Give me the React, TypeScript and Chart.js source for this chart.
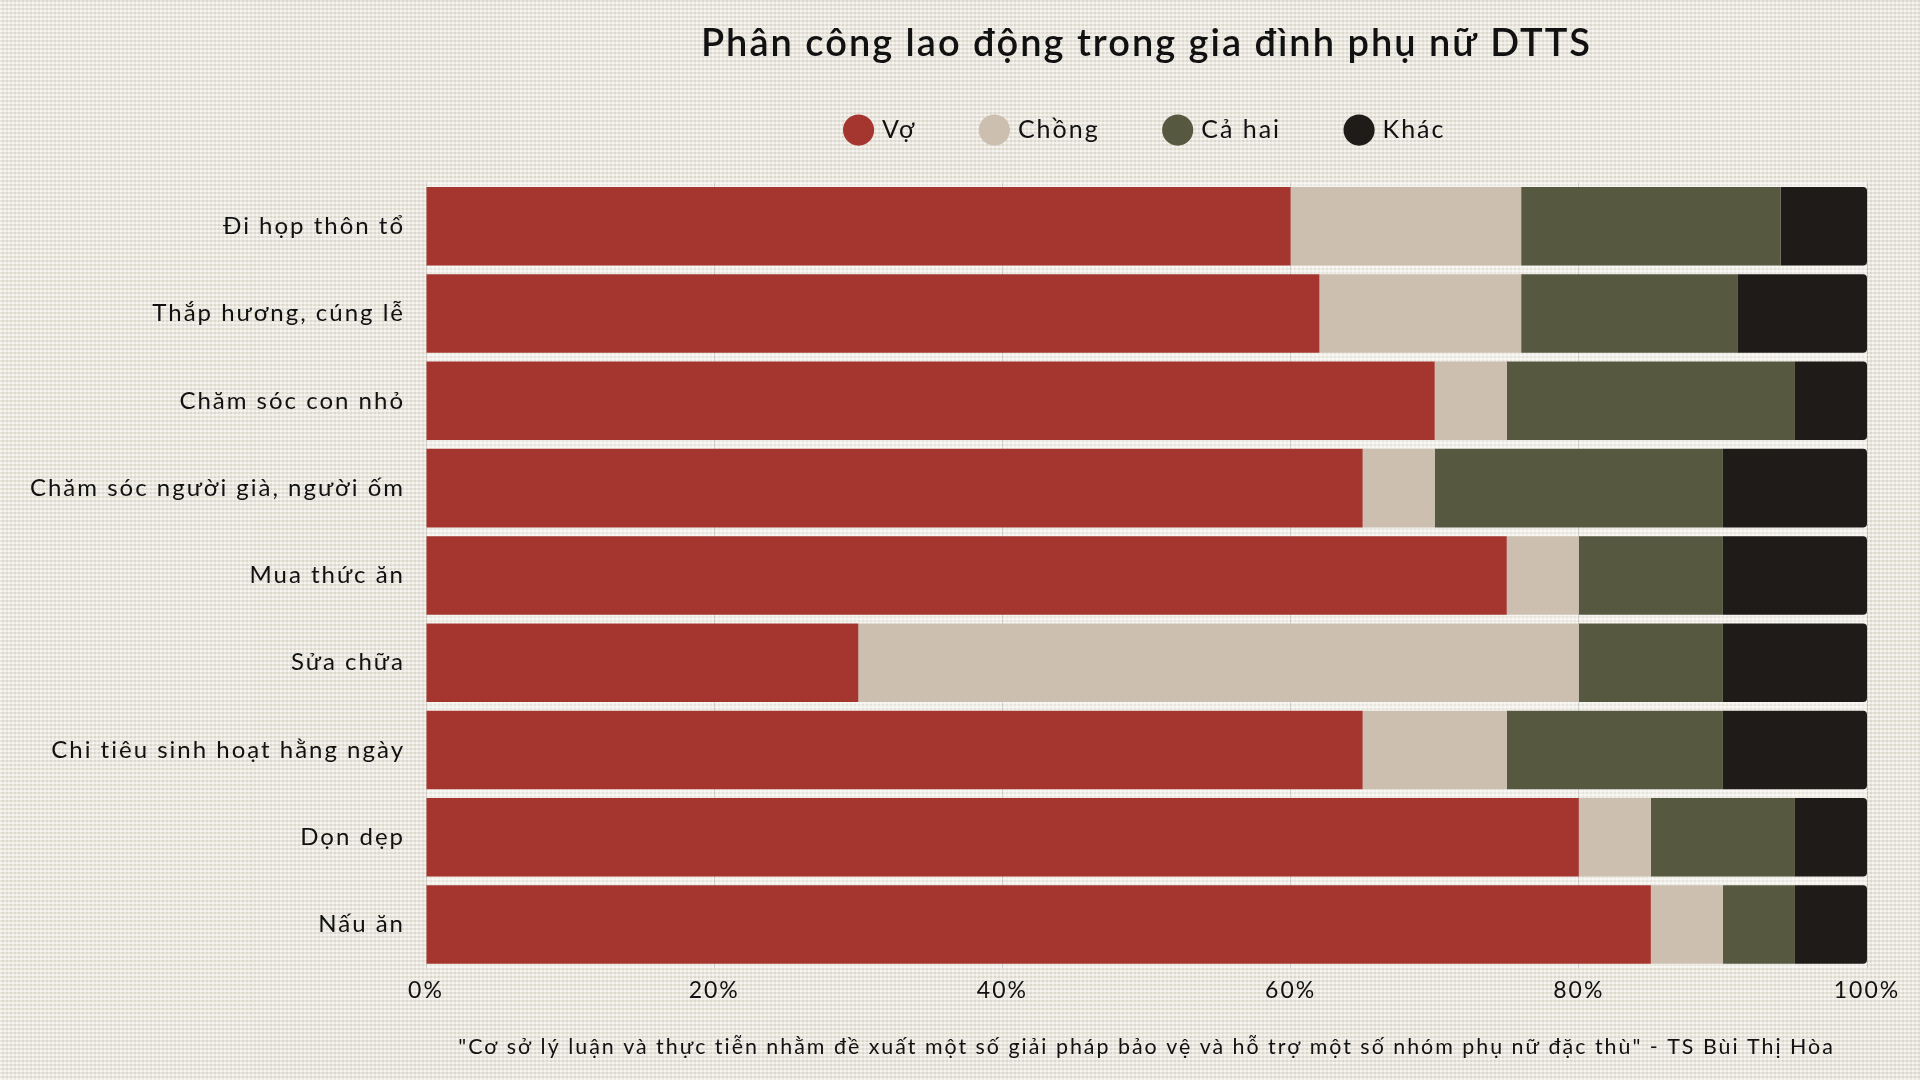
import React, { useEffect, useRef } from 'react';
import { Chart, registerables } from 'chart.js';

Chart.register(...registerables);

const categories = [
  'Đi họp thôn tổ',
  'Thắp hương, cúng lễ',
  'Chăm sóc con nhỏ',
  'Chăm sóc người già, người ốm',
  'Mua thức ăn',
  'Sửa chữa',
  'Chi tiêu sinh hoạt hằng ngày',
  'Dọn dẹp',
  'Nấu ăn',
];
const seriesNames = ['Vợ', 'Chồng', 'Cả hai', 'Khác'];
const vo = [60, 62, 70, 65, 75, 30, 65, 80, 85];
const chong = [16, 14, 5, 5, 5, 50, 10, 5, 5];
const caHai = [18, 15, 20, 20, 10, 10, 15, 10, 5];
const khac = [6, 9, 5, 10, 10, 10, 10, 5, 5];
const seriesColors = ['#A5362F', '#CCBFB0', '#565940', '#1F1B18'];
const xTicks = [0, 20, 40, 60, 80, 100];
const titleText = 'Phân công lao động trong gia đình phụ nữ DTTS';
const sourceText =
  '"Cơ sở lý luận và thực tiễn nhằm đề xuất một số giải pháp bảo vệ và hỗ trợ một số nhóm phụ nữ đặc thù" - TS Bùi Thị Hòa';

const FONT = 'Lato, "Noto Sans", sans-serif';

const letterSpacing = {
  id: 'letterSpacing',
  beforeLayout(chart: any) {
    chart.ctx.letterSpacing = '2px';
  },
  beforeDraw(chart: any) {
    chart.ctx.letterSpacing = '2px';
  },
};

const areaBg = {
  id: 'areaBg',
  beforeDraw(chart: any) {
    const { ctx, chartArea } = chart;
    if (!chartArea) return;
    ctx.save();
    ctx.fillStyle = 'rgba(255,255,255,0.35)';
    ctx.fillRect(chartArea.left, chartArea.top, chartArea.right - chartArea.left, chartArea.bottom - chartArea.top);
    ctx.restore();
  },
};

export default function App() {
  const ref = useRef<HTMLCanvasElement | null>(null);

  useEffect(() => {
    if (!ref.current) return;
    const seriesValues = [vo, chong, caHai, khac];
    const chart = new Chart(ref.current, {
      type: 'bar',
      data: {
        labels: categories,
        datasets: seriesNames.map((name, i) => ({
          label: name,
          data: seriesValues[i],
          backgroundColor: seriesColors[i],
          borderWidth: 0,
          borderRadius: 4,
          barPercentage: 0.9,
          categoryPercentage: 1,
        })),
      },
      plugins: [letterSpacing, areaBg],
      options: {
        indexAxis: 'y',
        animation: false,
        responsive: true,
        maintainAspectRatio: false,
        layout: { padding: { left: 0, right: 53, top: 0, bottom: 0 } },
        plugins: {
          tooltip: { enabled: false },
          title: {
            display: true,
            text: titleText,
            fullSize: false,
            color: '#111111',
            font: { family: FONT, size: 38, weight: '600', lineHeight: 1.2 },
            padding: { top: 21, bottom: -16 },
          },
          subtitle: {
            display: true,
            text: ' ',
            fullSize: false,
            weight: 500,
            font: { family: FONT, size: 10, lineHeight: 1 },
            padding: { top: 20, bottom: 0 },
          },
          legend: {
            display: true,
            position: 'top',
            fullSize: false,
            labels: {
              usePointStyle: true,
              pointStyle: 'circle',
              boxWidth: 22,
              boxHeight: 22,
              padding: 67,
              color: '#111111',
              font: { family: FONT, size: 25 },
            },
          },
        },
        scales: {
          x: {
            stacked: true,
            min: 0,
            max: 100,
            afterBuildTicks: (s: any) => {
              s.ticks = xTicks.map((v) => ({ value: v }));
            },
            grid: { color: 'rgba(0,0,0,0.12)', lineWidth: 1, drawTicks: false },
            border: { display: false },
            ticks: {
              padding: 9,
              color: '#111111',
              font: { family: FONT, size: 23 },
              callback: (v: any) => v + '%',
            },
            title: {
              display: true,
              text: sourceText,
              color: '#111111',
              font: { family: FONT, size: 21.4, lineHeight: 1.2 },
              padding: { top: 20.5, bottom: 20 },
            },
          },
          y: {
            stacked: true,
            afterFit: (s: any) => {
              s.width = 426;
            },
            grid: { display: false },
            border: { display: false },
            ticks: {
              padding: 13,
              color: '#111111',
              font: { family: FONT, size: 24 },
            },
          },
        },
      },
    } as any);
    return () => chart.destroy();
  }, []);

  return (
    <div
      style={{
        position: 'fixed',
        left: 0,
        top: 0,
        width: 1920,
        height: 1080,
        backgroundColor: '#e9e5db',
        backgroundImage:
          'repeating-linear-gradient(0deg, rgba(255,255,255,0.38) 0px, rgba(255,255,255,0.38) 2px, rgba(120,110,90,0.06) 2px, rgba(120,110,90,0.06) 4px), repeating-linear-gradient(90deg, rgba(255,255,255,0.32) 0px, rgba(255,255,255,0.32) 2px, rgba(120,110,90,0.06) 2px, rgba(120,110,90,0.06) 4px)',
      }}
    >
      <canvas ref={ref} />
    </div>
  );
}
